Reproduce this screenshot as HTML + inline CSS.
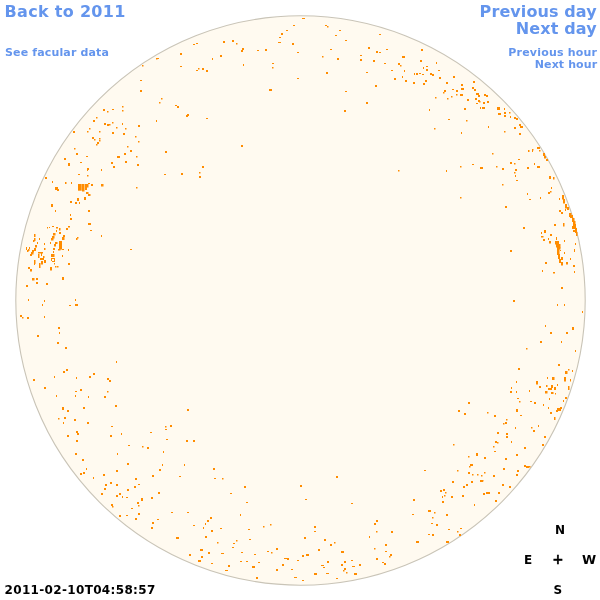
<!DOCTYPE html>
<html><head><meta charset="utf-8"><title>Facular map 2011-02-10</title>
<style>
html,body{margin:0;padding:0;background:#fff;}
body{width:600px;height:600px;position:relative;overflow:hidden;font-family:"DejaVu Sans","Liberation Sans",sans-serif;font-weight:bold;}
svg{position:absolute;left:0;top:0;}
.t{position:absolute;white-space:nowrap;line-height:1;}
.b{color:#6495ed;}
.k{color:#000;}
.big{font-size:16px;letter-spacing:0.1px;}
.sm{font-size:11px;letter-spacing:0.1px;}
.r{text-align:right;}
</style></head><body>
<svg width="600" height="600" viewBox="0 0 600 600">
<circle cx="300.5" cy="300.5" r="284.7" fill="#fffaf0" stroke="#c9c4b7" stroke-width="1.1"/>
<g fill="#ff8c00">
<rect x="78" y="184" width="3.7" height="6.7"/>
<rect x="82" y="184" width="2.5" height="7.5"/>
<rect x="85" y="184" width="2" height="6"/>
<rect x="86" y="184" width="2.5" height="3.5"/>
<rect x="88" y="183" width="2" height="1"/>
<rect x="91" y="184" width="2" height="2"/>
<rect x="86" y="192" width="2.5" height="2"/>
<rect x="88" y="194" width="2.5" height="2"/>
<rect x="84" y="197" width="2" height="3"/>
<rect x="78" y="174" width="2" height="1"/>
<rect x="87" y="175" width="1.5" height="1.5"/>
<rect x="87" y="169" width="1" height="2"/>
<rect x="101" y="169" width="1" height="2"/>
<rect x="65" y="182" width="1.5" height="2"/>
<rect x="71" y="182" width="1" height="2"/>
<rect x="101" y="184" width="2.5" height="2.5"/>
<rect x="77" y="198" width="2" height="3"/>
<rect x="70" y="201" width="2" height="2"/>
<rect x="75" y="202" width="2" height="2"/>
<rect x="79" y="202" width="1" height="2"/>
<rect x="570" y="215" width="3" height="3"/>
<rect x="572" y="218" width="2.5" height="4"/>
<rect x="573" y="221" width="2.5" height="5"/>
<rect x="572" y="226" width="2" height="3"/>
<rect x="574" y="224" width="2" height="5"/>
<rect x="573" y="230" width="2" height="2"/>
<rect x="575" y="228" width="2" height="5"/>
<rect x="576" y="232" width="1.5" height="4"/>
<rect x="554" y="224" width="2" height="2"/>
<rect x="563" y="223" width="1.5" height="3.5"/>
<rect x="544" y="230" width="2" height="3"/>
<rect x="541" y="232" width="1" height="2"/>
<rect x="550" y="234" width="2" height="2"/>
<rect x="541" y="236" width="2.5" height="1.5"/>
<rect x="543" y="239" width="2" height="2"/>
<rect x="548" y="238" width="1" height="2"/>
<rect x="549" y="241" width="2" height="2.5"/>
<rect x="564" y="240" width="1" height="2"/>
<rect x="575" y="243" width="1" height="2"/>
<rect x="556" y="237" width="1" height="3"/>
<rect x="555" y="241" width="4" height="3.5"/>
<rect x="556" y="244" width="4.5" height="3.5"/>
<rect x="557" y="247" width="3.5" height="2.5"/>
<rect x="557" y="249" width="2.5" height="6"/>
<rect x="558" y="254" width="2" height="5"/>
<rect x="559" y="259" width="2" height="4"/>
<rect x="561" y="262" width="2" height="3.5"/>
<rect x="561" y="257" width="2" height="3"/>
<rect x="560" y="250" width="1" height="1"/>
<rect x="564" y="252" width="1" height="2"/>
<rect x="574" y="249" width="1" height="3"/>
<rect x="570" y="258" width="1" height="2"/>
<rect x="545" y="262" width="2" height="2"/>
<rect x="566" y="262" width="2" height="2.5"/>
<rect x="573" y="265" width="2" height="2"/>
<rect x="542" y="270" width="1" height="2"/>
<rect x="553" y="272" width="2" height="1.5"/>
<rect x="574" y="271" width="1" height="2"/>
<rect x="47" y="227" width="1" height="1.5"/>
<rect x="49" y="227" width="1" height="1"/>
<rect x="52" y="226" width="2" height="1"/>
<rect x="56" y="227" width="2" height="1.5"/>
<rect x="56" y="230" width="1" height="2"/>
<rect x="59" y="228" width="1.5" height="2.5"/>
<rect x="59" y="232" width="2" height="2"/>
<rect x="66" y="228" width="2" height="2"/>
<rect x="68" y="226" width="2" height="1.5"/>
<rect x="76" y="238" width="1.5" height="2"/>
<rect x="77" y="237" width="1.5" height="1.5"/>
<rect x="34" y="234" width="1.5" height="3"/>
<rect x="34" y="238" width="1.5" height="3"/>
<rect x="33" y="240" width="1.5" height="2"/>
<rect x="39" y="238" width="1" height="2"/>
<rect x="37" y="242" width="1" height="2"/>
<rect x="44" y="243" width="1" height="2"/>
<rect x="44" y="248" width="1.5" height="2"/>
<rect x="26" y="247" width="1" height="3"/>
<rect x="29" y="247" width="1" height="2"/>
<rect x="28" y="249" width="1.5" height="2"/>
<rect x="27" y="250" width="1.5" height="2"/>
<rect x="35" y="245" width="2" height="2.5"/>
<rect x="34" y="248" width="2" height="3"/>
<rect x="32" y="250" width="2" height="2.5"/>
<rect x="31" y="252" width="2.5" height="2.5"/>
<rect x="30" y="254" width="2" height="2"/>
<rect x="38" y="252" width="5" height="1.5"/>
<rect x="38" y="254" width="1.5" height="4"/>
<rect x="41" y="253" width="1" height="3"/>
<rect x="40" y="258" width="4" height="2"/>
<rect x="43" y="256" width="1.5" height="2"/>
<rect x="41" y="261" width="2" height="3.5"/>
<rect x="44" y="260" width="2" height="3"/>
<rect x="34" y="260" width="1.5" height="4"/>
<rect x="34" y="263" width="1" height="2"/>
<rect x="39" y="263" width="1.5" height="5"/>
<rect x="28" y="267" width="2" height="2"/>
<rect x="30" y="269" width="2" height="2.5"/>
<rect x="53" y="233" width="2.5" height="2.5"/>
<rect x="52" y="236" width="2.5" height="2.5"/>
<rect x="51" y="238" width="2.5" height="2.5"/>
<rect x="50" y="242" width="1" height="2"/>
<rect x="55" y="242" width="2.5" height="2"/>
<rect x="54" y="244" width="2" height="2.5"/>
<rect x="53" y="248" width="2" height="2"/>
<rect x="63" y="235" width="2" height="2"/>
<rect x="62" y="237" width="2.5" height="3"/>
<rect x="59" y="241" width="3" height="8.5"/>
<rect x="58" y="249" width="2.5" height="1.5"/>
<rect x="62" y="249" width="2" height="1"/>
<rect x="68" y="249" width="1" height="2"/>
<rect x="53" y="251" width="1" height="2"/>
<rect x="51" y="254" width="3.5" height="3"/>
<rect x="52" y="258" width="3" height="1"/>
<rect x="52" y="261" width="3" height="1"/>
<rect x="51" y="258" width="1" height="3"/>
<rect x="54" y="258" width="1" height="3"/>
<rect x="62" y="255" width="1" height="2"/>
<rect x="54" y="263" width="1" height="1.5"/>
<rect x="55" y="266" width="1.5" height="1.5"/>
<rect x="57" y="266" width="1.5" height="1.5"/>
<rect x="50" y="267" width="2" height="3.5"/>
<rect x="68" y="263" width="2" height="2"/>
<rect x="32" y="278" width="2.5" height="2.5"/>
<rect x="36" y="278" width="2" height="2"/>
<rect x="62" y="277" width="2" height="3"/>
<rect x="575" y="350" width="1" height="2"/>
<rect x="558" y="364" width="2" height="2"/>
<rect x="518" y="368" width="2" height="2"/>
<rect x="565" y="371" width="2.5" height="3"/>
<rect x="568" y="369" width="1.5" height="1.5"/>
<rect x="572" y="370" width="1" height="2"/>
<rect x="547" y="377" width="1" height="2"/>
<rect x="552" y="377" width="2.5" height="3"/>
<rect x="564" y="377" width="2" height="4.5"/>
<rect x="570" y="379" width="1" height="2.5"/>
<rect x="516" y="381" width="1" height="2"/>
<rect x="536" y="381" width="2" height="3.5"/>
<rect x="557" y="384" width="1" height="2"/>
<rect x="539" y="386" width="2" height="2"/>
<rect x="546" y="385" width="1.5" height="2"/>
<rect x="548" y="388" width="3" height="2"/>
<rect x="551" y="385" width="2" height="3"/>
<rect x="554" y="387" width="2" height="3"/>
<rect x="550" y="388" width="2" height="2"/>
<rect x="545" y="391" width="2.5" height="2.5"/>
<rect x="551" y="392" width="2.5" height="2"/>
<rect x="555" y="393" width="1" height="1.5"/>
<rect x="568" y="386" width="1.5" height="4"/>
<rect x="511" y="387" width="1" height="2"/>
<rect x="510" y="391" width="2" height="2"/>
<rect x="516" y="391" width="1" height="2"/>
<rect x="529" y="390" width="1" height="2"/>
<rect x="517" y="398" width="2" height="1"/>
<rect x="519" y="401" width="1.5" height="1.5"/>
<rect x="530" y="401" width="2" height="1"/>
<rect x="534" y="402" width="2" height="2"/>
<rect x="549" y="398" width="1" height="2"/>
<rect x="543" y="404" width="1" height="2"/>
<rect x="548" y="407" width="1" height="2"/>
<rect x="565" y="397" width="2" height="2"/>
<rect x="563" y="400" width="1" height="2"/>
<rect x="557" y="408" width="4" height="3"/>
<rect x="556" y="410" width="2" height="2"/>
<rect x="560" y="407" width="2" height="2"/>
<rect x="516" y="409" width="2" height="3"/>
<rect x="550" y="412" width="2" height="2"/>
<rect x="520" y="415" width="2" height="1"/>
<rect x="554" y="417" width="1.5" height="3"/>
<rect x="506" y="419" width="1.5" height="1.5"/>
<rect x="505" y="422" width="2" height="2"/>
<rect x="503" y="423" width="1.5" height="1.5"/>
<rect x="538" y="425" width="1" height="2"/>
<rect x="531" y="427" width="1.5" height="1.5"/>
<rect x="515" y="427" width="1" height="2"/>
<rect x="533" y="430" width="2" height="2"/>
<rect x="506" y="433" width="2" height="2"/>
<rect x="506" y="436" width="2" height="2"/>
<rect x="544" y="436" width="2" height="2"/>
<rect x="510" y="250" width="2" height="2"/>
<rect x="561" y="287" width="2" height="2"/>
<rect x="513" y="300" width="2" height="2"/>
<rect x="557" y="304" width="1" height="2"/>
<rect x="564" y="304" width="1" height="2"/>
<rect x="582" y="311" width="1" height="2"/>
<rect x="545" y="325" width="1" height="2"/>
<rect x="572" y="327" width="2" height="3"/>
<rect x="453" y="76" width="2" height="2"/>
<rect x="473" y="81" width="2" height="2"/>
<rect x="461" y="84" width="2" height="2"/>
<rect x="461" y="88" width="3" height="2"/>
<rect x="452" y="89" width="2" height="1"/>
<rect x="456" y="90" width="2" height="2"/>
<rect x="456" y="94" width="1.5" height="1.5"/>
<rect x="451" y="96" width="1.5" height="1.5"/>
<rect x="460" y="94" width="3" height="2"/>
<rect x="472" y="87" width="2" height="2"/>
<rect x="474" y="89" width="2" height="2"/>
<rect x="476" y="93" width="3" height="2"/>
<rect x="478" y="95" width="2" height="2"/>
<rect x="484" y="94" width="2" height="2"/>
<rect x="486" y="95" width="2" height="2"/>
<rect x="467" y="99" width="2" height="2"/>
<rect x="475" y="98" width="2" height="2"/>
<rect x="478" y="100" width="2" height="2"/>
<rect x="479" y="101" width="1.5" height="1.5"/>
<rect x="476" y="103" width="2" height="1"/>
<rect x="483" y="102" width="2" height="2"/>
<rect x="487" y="101" width="2" height="2"/>
<rect x="480" y="107" width="1" height="2"/>
<rect x="482" y="107" width="3" height="2"/>
<rect x="464" y="108" width="2" height="2"/>
<rect x="497" y="107" width="3" height="3"/>
<rect x="504" y="108" width="1" height="2"/>
<rect x="498" y="113" width="3" height="2"/>
<rect x="504" y="112" width="2" height="2"/>
<rect x="504" y="115" width="2" height="2"/>
<rect x="509" y="112" width="1.5" height="1.5"/>
<rect x="510" y="116" width="1" height="2"/>
<rect x="514" y="117" width="2" height="2"/>
<rect x="516" y="118" width="2" height="2"/>
<rect x="466" y="120" width="1.5" height="1.5"/>
<rect x="488" y="126" width="1" height="2"/>
<rect x="519" y="124" width="2" height="2"/>
<rect x="520" y="126" width="3" height="2"/>
<rect x="514" y="127" width="2" height="2"/>
<rect x="504" y="131" width="1.5" height="1.5"/>
<rect x="519" y="133" width="2" height="2"/>
<rect x="461" y="132" width="1" height="2"/>
<rect x="532" y="149" width="1.5" height="1.5"/>
<rect x="537" y="147" width="3" height="2"/>
<rect x="26" y="285" width="2" height="2"/>
<rect x="46" y="283" width="2" height="2"/>
<rect x="36" y="282" width="2" height="2"/>
<rect x="28" y="299" width="1" height="2"/>
<rect x="44" y="300" width="1" height="2"/>
<rect x="42" y="304" width="1" height="2"/>
<rect x="75" y="299" width="1" height="2"/>
<rect x="69" y="305" width="2" height="1"/>
<rect x="75" y="304" width="3" height="2"/>
<rect x="20" y="315" width="2" height="2"/>
<rect x="22" y="317" width="1.5" height="1.5"/>
<rect x="27" y="317" width="2" height="2"/>
<rect x="44" y="316" width="1" height="2"/>
<rect x="58" y="327" width="2" height="2"/>
<rect x="528" y="150" width="1.5" height="2"/>
<rect x="532" y="150" width="1" height="2"/>
<rect x="539" y="150" width="1.5" height="1.5"/>
<rect x="543" y="153" width="2" height="3"/>
<rect x="544" y="156" width="2" height="2.5"/>
<rect x="546" y="159" width="2" height="2"/>
<rect x="518" y="159" width="2" height="1"/>
<rect x="510" y="162" width="2" height="2"/>
<rect x="514" y="163" width="1.5" height="1.5"/>
<rect x="534" y="163" width="1" height="2"/>
<rect x="527" y="167" width="2" height="2"/>
<rect x="537" y="166" width="3" height="2"/>
<rect x="515" y="169" width="2" height="2"/>
<rect x="514" y="172" width="1.5" height="1.5"/>
<rect x="515" y="175" width="1" height="2"/>
<rect x="516" y="180" width="2" height="1"/>
<rect x="549" y="176" width="2" height="3"/>
<rect x="553" y="177" width="1.5" height="2.5"/>
<rect x="551" y="187" width="1" height="2"/>
<rect x="550" y="191" width="1.5" height="1.5"/>
<rect x="548" y="192" width="2" height="2"/>
<rect x="527" y="193" width="1" height="2"/>
<rect x="529" y="199" width="2" height="1"/>
<rect x="540" y="197" width="1" height="2"/>
<rect x="559" y="198" width="1" height="2"/>
<rect x="562" y="195" width="2" height="4.5"/>
<rect x="563" y="199" width="2" height="4.5"/>
<rect x="565" y="204" width="2" height="4.5"/>
<rect x="567" y="207" width="2" height="3"/>
<rect x="565" y="209" width="1" height="2"/>
<rect x="559" y="210" width="2" height="2"/>
<rect x="561" y="212" width="2" height="2"/>
<rect x="569" y="213" width="2.5" height="4"/>
<rect x="523" y="227" width="2" height="2"/>
<rect x="76" y="153" width="2" height="2"/>
<rect x="86" y="156" width="2" height="1"/>
<rect x="117" y="156" width="3" height="2"/>
<rect x="64" y="158" width="2" height="2"/>
<rect x="80" y="162" width="2" height="1"/>
<rect x="111" y="162" width="2" height="2"/>
<rect x="68" y="163" width="2" height="3"/>
<rect x="113" y="166" width="2" height="2"/>
<rect x="87" y="168" width="2" height="2"/>
<rect x="45" y="177" width="2" height="2"/>
<rect x="52" y="181" width="1" height="2"/>
<rect x="55" y="187" width="3" height="3"/>
<rect x="57" y="189" width="2" height="2"/>
<rect x="51" y="204" width="2" height="3"/>
<rect x="55" y="210" width="1" height="2"/>
<rect x="88" y="210" width="2" height="2"/>
<rect x="70" y="214" width="1" height="2"/>
<rect x="70" y="218" width="2" height="2"/>
<rect x="88" y="223" width="3" height="2"/>
<rect x="90" y="230" width="2" height="1"/>
<rect x="101" y="235" width="1" height="2"/>
<rect x="550" y="332" width="2" height="2"/>
<rect x="566" y="332" width="2" height="2"/>
<rect x="561" y="341" width="1" height="2"/>
<rect x="540" y="341" width="2" height="2"/>
<rect x="526" y="348" width="1.5" height="1.5"/>
<rect x="468" y="402" width="2" height="2"/>
<rect x="458" y="410" width="2" height="2"/>
<rect x="464" y="413" width="2" height="2"/>
<rect x="487" y="412" width="1.5" height="1.5"/>
<rect x="494" y="415" width="2" height="2"/>
<rect x="453" y="444" width="1.5" height="1.5"/>
<rect x="495" y="441" width="2" height="2"/>
<rect x="497" y="442" width="1.5" height="1.5"/>
<rect x="497" y="432" width="2" height="2"/>
<rect x="511" y="441" width="1" height="2"/>
<rect x="524" y="447" width="2" height="2"/>
<rect x="542" y="444" width="2" height="2"/>
<rect x="493" y="446" width="1.5" height="1.5"/>
<rect x="130" y="150" width="2" height="2"/>
<rect x="124" y="153" width="2" height="2"/>
<rect x="117" y="156" width="3" height="2"/>
<rect x="136" y="156" width="1.5" height="1.5"/>
<rect x="125" y="161" width="2" height="2"/>
<rect x="137" y="164" width="2" height="2"/>
<rect x="136" y="187" width="1.5" height="1.5"/>
<rect x="130" y="249" width="2" height="1"/>
<rect x="75" y="453" width="2" height="2"/>
<rect x="117" y="453" width="1" height="2"/>
<rect x="82" y="459" width="2" height="2"/>
<rect x="127" y="463" width="2" height="2"/>
<rect x="86" y="468" width="1" height="2"/>
<rect x="83" y="472" width="2" height="2"/>
<rect x="80" y="473" width="2" height="2"/>
<rect x="116" y="470" width="2" height="2"/>
<rect x="103" y="474" width="2" height="2"/>
<rect x="93" y="477" width="1" height="2"/>
<rect x="135" y="478" width="2" height="2"/>
<rect x="110" y="482" width="2" height="2"/>
<rect x="105" y="484" width="2" height="2"/>
<rect x="116" y="484" width="2" height="2"/>
<rect x="138" y="484" width="2" height="1"/>
<rect x="134" y="486" width="2" height="2"/>
<rect x="104" y="488" width="2" height="2"/>
<rect x="127" y="489" width="2" height="2"/>
<rect x="101" y="493" width="2" height="2"/>
<rect x="119" y="493" width="2" height="2"/>
<rect x="116" y="495" width="2" height="2"/>
<rect x="122" y="496" width="1" height="2"/>
<rect x="126" y="497" width="2" height="1"/>
<rect x="141" y="498" width="2" height="3"/>
<rect x="137" y="502" width="2" height="2"/>
<rect x="138" y="505" width="1.5" height="1.5"/>
<rect x="111" y="504" width="2" height="2"/>
<rect x="112" y="506" width="1.5" height="1.5"/>
<rect x="131" y="508" width="2" height="1"/>
<rect x="138" y="513" width="2" height="2"/>
<rect x="119" y="515" width="2" height="2"/>
<rect x="126" y="515" width="2" height="1"/>
<rect x="135" y="518" width="2" height="2"/>
<rect x="494" y="451" width="2" height="1"/>
<rect x="476" y="453" width="2" height="3"/>
<rect x="516" y="454" width="2" height="2"/>
<rect x="468" y="456" width="1.5" height="1.5"/>
<rect x="484" y="457" width="2" height="2"/>
<rect x="505" y="458" width="2" height="2"/>
<rect x="470" y="464" width="3" height="2"/>
<rect x="469" y="466" width="1.5" height="1.5"/>
<rect x="457" y="470" width="1.5" height="1.5"/>
<rect x="524" y="465" width="2" height="2"/>
<rect x="526" y="466" width="3" height="2"/>
<rect x="529" y="466" width="1.5" height="1.5"/>
<rect x="503" y="468" width="2" height="2"/>
<rect x="517" y="470" width="2" height="2"/>
<rect x="468" y="472" width="2" height="2"/>
<rect x="484" y="472" width="1.5" height="1.5"/>
<rect x="472" y="474" width="1.5" height="1.5"/>
<rect x="477" y="474" width="1.5" height="1.5"/>
<rect x="481" y="475" width="1.5" height="1.5"/>
<rect x="493" y="475" width="2" height="2"/>
<rect x="516" y="474" width="2" height="2"/>
<rect x="452" y="481" width="2" height="2"/>
<rect x="471" y="481" width="2" height="2"/>
<rect x="480" y="480" width="3" height="2"/>
<rect x="482" y="480" width="1.5" height="1.5"/>
<rect x="466" y="484" width="2" height="2"/>
<rect x="463" y="486" width="2" height="2"/>
<rect x="502" y="484" width="2" height="2"/>
<rect x="509" y="486" width="2" height="2"/>
<rect x="451" y="496" width="2" height="2"/>
<rect x="462" y="495" width="2" height="2"/>
<rect x="483" y="493" width="2" height="2"/>
<rect x="486" y="492" width="2" height="2"/>
<rect x="488" y="492" width="2" height="2"/>
<rect x="498" y="492" width="2" height="2"/>
<rect x="495" y="500" width="2" height="2"/>
<rect x="474" y="504" width="1" height="2"/>
<rect x="460" y="528" width="2" height="1"/>
<rect x="457" y="531" width="1.5" height="1.5"/>
<rect x="459" y="534" width="2" height="2"/>
<rect x="293" y="25" width="2" height="1"/>
<rect x="286" y="30" width="2" height="1"/>
<rect x="281" y="33" width="2" height="2"/>
<rect x="279" y="37" width="2" height="1"/>
<rect x="278" y="42" width="3" height="1"/>
<rect x="292" y="43" width="2" height="2"/>
<rect x="297" y="52" width="2" height="1"/>
<rect x="297" y="78" width="2" height="1"/>
<rect x="223" y="41" width="2" height="2"/>
<rect x="232" y="40" width="2" height="2"/>
<rect x="236" y="43" width="1.5" height="1.5"/>
<rect x="242" y="48" width="2" height="2"/>
<rect x="241" y="50" width="2" height="2"/>
<rect x="257" y="50" width="2" height="1"/>
<rect x="265" y="49" width="2" height="2"/>
<rect x="193" y="44" width="2" height="1"/>
<rect x="196" y="43" width="2" height="1"/>
<rect x="180" y="53" width="2" height="2"/>
<rect x="157" y="58" width="2" height="1"/>
<rect x="156" y="58" width="1.5" height="1.5"/>
<rect x="212" y="58" width="1" height="2"/>
<rect x="220" y="55" width="2" height="2"/>
<rect x="180" y="66" width="2" height="1"/>
<rect x="243" y="64" width="1" height="2"/>
<rect x="272" y="63" width="2" height="1"/>
<rect x="272" y="67" width="1.5" height="1.5"/>
<rect x="196" y="70" width="2" height="1"/>
<rect x="198" y="68" width="1.5" height="1.5"/>
<rect x="202" y="68" width="2" height="2"/>
<rect x="206" y="70" width="2" height="2"/>
<rect x="269" y="89" width="3" height="2"/>
<rect x="161" y="98" width="1.5" height="1.5"/>
<rect x="159" y="102" width="1.5" height="1.5"/>
<rect x="175" y="105" width="2" height="1"/>
<rect x="177" y="106" width="2" height="2"/>
<rect x="187" y="114" width="2" height="2"/>
<rect x="186" y="115" width="2" height="2"/>
<rect x="206" y="118" width="2" height="1"/>
<rect x="156" y="120" width="1" height="2"/>
<rect x="241" y="145" width="2" height="2"/>
<rect x="59" y="332" width="1" height="2"/>
<rect x="37" y="335" width="2" height="2"/>
<rect x="57" y="342" width="2" height="2"/>
<rect x="65" y="347" width="2" height="2"/>
<rect x="116" y="361" width="1" height="2"/>
<rect x="66" y="369" width="2" height="2"/>
<rect x="63" y="371" width="2" height="2"/>
<rect x="54" y="376" width="1" height="2"/>
<rect x="76" y="377" width="1" height="2"/>
<rect x="89" y="376" width="2" height="2"/>
<rect x="93" y="373" width="2" height="2"/>
<rect x="107" y="378" width="2" height="2"/>
<rect x="109" y="380" width="2" height="2"/>
<rect x="33" y="379" width="2" height="2"/>
<rect x="44" y="387" width="2" height="2"/>
<rect x="80" y="389" width="2" height="2"/>
<rect x="75" y="391" width="2" height="1"/>
<rect x="75" y="395" width="1" height="2"/>
<rect x="56" y="395" width="1" height="2"/>
<rect x="88" y="396" width="1" height="2"/>
<rect x="107" y="391" width="1.5" height="1.5"/>
<rect x="104" y="396" width="2" height="2"/>
<rect x="115" y="405" width="2" height="2"/>
<rect x="62" y="407" width="2" height="3"/>
<rect x="67" y="410" width="2" height="2"/>
<rect x="83" y="407" width="2" height="2"/>
<rect x="58" y="418" width="1.5" height="1.5"/>
<rect x="64" y="417" width="2" height="2"/>
<rect x="63" y="422" width="1" height="2"/>
<rect x="74" y="419" width="2" height="2"/>
<rect x="87" y="422" width="2" height="2"/>
<rect x="111" y="426" width="2" height="1"/>
<rect x="76" y="431" width="2" height="2"/>
<rect x="77" y="433" width="2" height="2"/>
<rect x="67" y="435" width="2" height="2"/>
<rect x="110" y="435" width="2" height="2"/>
<rect x="121" y="433" width="1" height="2"/>
<rect x="76" y="440" width="2" height="2"/>
<rect x="128" y="445" width="2" height="1"/>
<rect x="142" y="446" width="1.5" height="1.5"/>
<rect x="147" y="447" width="2" height="2"/>
<rect x="424" y="470" width="2" height="1"/>
<rect x="336" y="476" width="2" height="2"/>
<rect x="300" y="485" width="2" height="2"/>
<rect x="440" y="490" width="2" height="2"/>
<rect x="443" y="489" width="2" height="2"/>
<rect x="445" y="492" width="1.5" height="1.5"/>
<rect x="442" y="496" width="1" height="2"/>
<rect x="444" y="495" width="1.5" height="1.5"/>
<rect x="305" y="499" width="2" height="1"/>
<rect x="413" y="499" width="2" height="2"/>
<rect x="442" y="501" width="2" height="2"/>
<rect x="351" y="503" width="2" height="1"/>
<rect x="428" y="510" width="3" height="2"/>
<rect x="434" y="512" width="1.5" height="1.5"/>
<rect x="412" y="514" width="2" height="1"/>
<rect x="446" y="514" width="2" height="2"/>
<rect x="432" y="517" width="1.5" height="1.5"/>
<rect x="376" y="520" width="2" height="2"/>
<rect x="374" y="523" width="2" height="2"/>
<rect x="431" y="523" width="2" height="1"/>
<rect x="436" y="524" width="2" height="2"/>
<rect x="314" y="526" width="2" height="2"/>
<rect x="314" y="531" width="2" height="1"/>
<rect x="376" y="531" width="1.5" height="1.5"/>
<rect x="391" y="531" width="2" height="2"/>
<rect x="448" y="529" width="2" height="1"/>
<rect x="428" y="534" width="2" height="1"/>
<rect x="432" y="534" width="2" height="2"/>
<rect x="369" y="536" width="1" height="2"/>
<rect x="304" y="537" width="2" height="2"/>
<rect x="324" y="539" width="2" height="2"/>
<rect x="416" y="541" width="3" height="2"/>
<rect x="446" y="541" width="3" height="2"/>
<rect x="330" y="544" width="2" height="2"/>
<rect x="334" y="542" width="1.5" height="1.5"/>
<rect x="385" y="544" width="2" height="2"/>
<rect x="318" y="549" width="2" height="2"/>
<rect x="374" y="548" width="1.5" height="1.5"/>
<rect x="385" y="551" width="2" height="1"/>
<rect x="341" y="551" width="3" height="2"/>
<rect x="302" y="555" width="2" height="2"/>
<rect x="306" y="554" width="3" height="2"/>
<rect x="390" y="554" width="2" height="2"/>
<rect x="389" y="556" width="1.5" height="1.5"/>
<rect x="351" y="560" width="2" height="1"/>
<rect x="376" y="558" width="2" height="2"/>
<rect x="327" y="561" width="2" height="2"/>
<rect x="344" y="561" width="2" height="2"/>
<rect x="382" y="562" width="2" height="1"/>
<rect x="384" y="563" width="2" height="2"/>
<rect x="321" y="565" width="3" height="1"/>
<rect x="323" y="567" width="2" height="1"/>
<rect x="341" y="564" width="2" height="2"/>
<rect x="359" y="564" width="2" height="2"/>
<rect x="352" y="566" width="3" height="1"/>
<rect x="344" y="568" width="2" height="2"/>
<rect x="343" y="570" width="1.5" height="1.5"/>
<rect x="346" y="572" width="1.5" height="1.5"/>
<rect x="314" y="573" width="3" height="2"/>
<rect x="326" y="573" width="3" height="1"/>
<rect x="354" y="573" width="3" height="2"/>
<rect x="336" y="578" width="2" height="1"/>
<rect x="302" y="580" width="2" height="1"/>
<rect x="492" y="153" width="1.5" height="1.5"/>
<rect x="460" y="166" width="1.5" height="1.5"/>
<rect x="472" y="164" width="2" height="1"/>
<rect x="480" y="167" width="3" height="2"/>
<rect x="496" y="166" width="1.5" height="1.5"/>
<rect x="502" y="168" width="2" height="2"/>
<rect x="502" y="184" width="1.5" height="1.5"/>
<rect x="460" y="197" width="1.5" height="1.5"/>
<rect x="505" y="206" width="2" height="2"/>
<rect x="165" y="151" width="2" height="2"/>
<rect x="202" y="166" width="2" height="2"/>
<rect x="164" y="174" width="2" height="1"/>
<rect x="181" y="173" width="2" height="2"/>
<rect x="199" y="172" width="1.5" height="1.5"/>
<rect x="199" y="176" width="2" height="2"/>
<rect x="187" y="409" width="2" height="2"/>
<rect x="170" y="425" width="2" height="2"/>
<rect x="165" y="426" width="1.5" height="1.5"/>
<rect x="165" y="429" width="2" height="1"/>
<rect x="150" y="432" width="2" height="1"/>
<rect x="166" y="439" width="2" height="1"/>
<rect x="186" y="440" width="2" height="2"/>
<rect x="193" y="440" width="2" height="2"/>
<rect x="302" y="18" width="3" height="1"/>
<rect x="325" y="25" width="2" height="1"/>
<rect x="327" y="26" width="1.5" height="1.5"/>
<rect x="339" y="30" width="2" height="1"/>
<rect x="335" y="35" width="2" height="1"/>
<rect x="345" y="40" width="2" height="1"/>
<rect x="379" y="34" width="2" height="1"/>
<rect x="330" y="49" width="2" height="1"/>
<rect x="322" y="56" width="1.5" height="1.5"/>
<rect x="337" y="58" width="2" height="2"/>
<rect x="368" y="47" width="2" height="2"/>
<rect x="376" y="51" width="2" height="2"/>
<rect x="379" y="52" width="2" height="1"/>
<rect x="386" y="49" width="2" height="1"/>
<rect x="360" y="55" width="2" height="1"/>
<rect x="360" y="59" width="2" height="2"/>
<rect x="373" y="60" width="2" height="2"/>
<rect x="384" y="63" width="2" height="1"/>
<rect x="421" y="49" width="2" height="2"/>
<rect x="402" y="56" width="3" height="2"/>
<rect x="420" y="60" width="2" height="2"/>
<rect x="436" y="62" width="1" height="2"/>
<rect x="398" y="63" width="2" height="2"/>
<rect x="400" y="65" width="1.5" height="1.5"/>
<rect x="426" y="66" width="2" height="1"/>
<rect x="423" y="67" width="1" height="2"/>
<rect x="426" y="69" width="2" height="2"/>
<rect x="391" y="70" width="2" height="1"/>
<rect x="404" y="70" width="1" height="2"/>
<rect x="438" y="70" width="2" height="1"/>
<rect x="326" y="72" width="2" height="2"/>
<rect x="366" y="72" width="2" height="1"/>
<rect x="414" y="73" width="1" height="2"/>
<rect x="416" y="73" width="2" height="2"/>
<rect x="419" y="73" width="2" height="1"/>
<rect x="422" y="74" width="2" height="1"/>
<rect x="430" y="73" width="2" height="2"/>
<rect x="432" y="74" width="2" height="2"/>
<rect x="402" y="76" width="1" height="2"/>
<rect x="394" y="78" width="2" height="2"/>
<rect x="439" y="77" width="2" height="2"/>
<rect x="405" y="80" width="2" height="2"/>
<rect x="425" y="80" width="2" height="2"/>
<rect x="413" y="82" width="2" height="2"/>
<rect x="446" y="82" width="2" height="2"/>
<rect x="423" y="83" width="2" height="2"/>
<rect x="375" y="85" width="2" height="2"/>
<rect x="345" y="91" width="2" height="1"/>
<rect x="444" y="90" width="2" height="2"/>
<rect x="443" y="92" width="1.5" height="1.5"/>
<rect x="435" y="97" width="1.5" height="1.5"/>
<rect x="447" y="98" width="1.5" height="1.5"/>
<rect x="366" y="102" width="2" height="2"/>
<rect x="344" y="110" width="2" height="2"/>
<rect x="429" y="109" width="1" height="2"/>
<rect x="448" y="119" width="2" height="1"/>
<rect x="434" y="128" width="1.5" height="1.5"/>
<rect x="163" y="451" width="1" height="2"/>
<rect x="162" y="464" width="1" height="2"/>
<rect x="184" y="464" width="1" height="2"/>
<rect x="159" y="469" width="2" height="2"/>
<rect x="213" y="468" width="2" height="2"/>
<rect x="152" y="475" width="2" height="2"/>
<rect x="179" y="476" width="2" height="1"/>
<rect x="214" y="478" width="2" height="1"/>
<rect x="222" y="478" width="1.5" height="1.5"/>
<rect x="244" y="486" width="2" height="2"/>
<rect x="158" y="492" width="2" height="2"/>
<rect x="230" y="493" width="2" height="1"/>
<rect x="151" y="497" width="2" height="2"/>
<rect x="246" y="502" width="2" height="1"/>
<rect x="171" y="512" width="2" height="1"/>
<rect x="187" y="512" width="2" height="1"/>
<rect x="240" y="514" width="1" height="2"/>
<rect x="157" y="519" width="2" height="1"/>
<rect x="210" y="517" width="2" height="2"/>
<rect x="207" y="520" width="2" height="2"/>
<rect x="152" y="522" width="2" height="2"/>
<rect x="151" y="527" width="2" height="2"/>
<rect x="193" y="525" width="2" height="1"/>
<rect x="205" y="523" width="1" height="2"/>
<rect x="203" y="527" width="1" height="2"/>
<rect x="220" y="528" width="2" height="1"/>
<rect x="211" y="530" width="2" height="2"/>
<rect x="248" y="529" width="2" height="1"/>
<rect x="263" y="526" width="1.5" height="1.5"/>
<rect x="270" y="524" width="1.5" height="1.5"/>
<rect x="176" y="537" width="3" height="2"/>
<rect x="205" y="536" width="2" height="2"/>
<rect x="236" y="540" width="1.5" height="1.5"/>
<rect x="217" y="542" width="1.5" height="1.5"/>
<rect x="233" y="543" width="2" height="1"/>
<rect x="232" y="547" width="2" height="1"/>
<rect x="249" y="539" width="2" height="1"/>
<rect x="200" y="549" width="3" height="2"/>
<rect x="208" y="552" width="2" height="2"/>
<rect x="189" y="554" width="2" height="2"/>
<rect x="221" y="553" width="3" height="1"/>
<rect x="241" y="552" width="2" height="1"/>
<rect x="254" y="554" width="2" height="1"/>
<rect x="276" y="548" width="2" height="2"/>
<rect x="267" y="551" width="2" height="1"/>
<rect x="271" y="552" width="1.5" height="1.5"/>
<rect x="201" y="556" width="2" height="2"/>
<rect x="198" y="560" width="3" height="2"/>
<rect x="211" y="563" width="2" height="1"/>
<rect x="240" y="561" width="2" height="1"/>
<rect x="246" y="561" width="2" height="1"/>
<rect x="258" y="562" width="2" height="1"/>
<rect x="284" y="558" width="3" height="1"/>
<rect x="287" y="558" width="2" height="2"/>
<rect x="297" y="560" width="2" height="1"/>
<rect x="228" y="565" width="2" height="2"/>
<rect x="252" y="566" width="3" height="2"/>
<rect x="282" y="564" width="2" height="2"/>
<rect x="225" y="570" width="3" height="1"/>
<rect x="276" y="569" width="2" height="2"/>
<rect x="291" y="569" width="2" height="1"/>
<rect x="256" y="577" width="2" height="2"/>
<rect x="294" y="577" width="3" height="1"/>
<rect x="398" y="170" width="1.5" height="1.5"/>
<rect x="446" y="170" width="1" height="2"/>
<rect x="142" y="65" width="1.5" height="1.5"/>
<rect x="140" y="80" width="2" height="1"/>
<rect x="140" y="90" width="2" height="2"/>
<rect x="103" y="109" width="2" height="2"/>
<rect x="107" y="111" width="1.5" height="1.5"/>
<rect x="112" y="109" width="2" height="1"/>
<rect x="122" y="106" width="1.5" height="1.5"/>
<rect x="122" y="110" width="1.5" height="1.5"/>
<rect x="96" y="117" width="1.5" height="1.5"/>
<rect x="93" y="120" width="2" height="2"/>
<rect x="104" y="123" width="2" height="2"/>
<rect x="107" y="124" width="2" height="2"/>
<rect x="109" y="124" width="1.5" height="1.5"/>
<rect x="112" y="122" width="1.5" height="1.5"/>
<rect x="122" y="123" width="1" height="2"/>
<rect x="138" y="125" width="2" height="2"/>
<rect x="89" y="128" width="1.5" height="1.5"/>
<rect x="87" y="131" width="1.5" height="1.5"/>
<rect x="99" y="131" width="1.5" height="1.5"/>
<rect x="112" y="132" width="2" height="2"/>
<rect x="116" y="127" width="1.5" height="1.5"/>
<rect x="123" y="133" width="2" height="2"/>
<rect x="125" y="128" width="1.5" height="1.5"/>
<rect x="73" y="131" width="2" height="2"/>
<rect x="135" y="136" width="1.5" height="1.5"/>
<rect x="92" y="137" width="2" height="2"/>
<rect x="94" y="139" width="1.5" height="1.5"/>
<rect x="99" y="138" width="1.5" height="1.5"/>
<rect x="99" y="140" width="1.5" height="1.5"/>
<rect x="97" y="142" width="2" height="2"/>
<rect x="96" y="144" width="1.5" height="1.5"/>
<rect x="138" y="141" width="1.5" height="1.5"/>
<rect x="127" y="146" width="1.5" height="1.5"/>
<rect x="74" y="148" width="1.5" height="1.5"/>
</g>
</svg>
<div class="t b big" style="left:4.6px;top:4px;letter-spacing:0.3px;">Back to 2011</div>
<div class="t b sm" style="left:5px;top:46.8px;letter-spacing:0.15px;">See facular data</div>
<div class="t b big r" style="right:3.2px;top:4px;">Previous day</div>
<div class="t b big r" style="right:3.2px;top:21px;letter-spacing:0.14px;">Next day</div>
<div class="t b sm r" style="right:2.8px;top:47px;letter-spacing:0.2px;">Previous hour</div>
<div class="t b sm r" style="right:2.8px;top:59.2px;letter-spacing:0.1px;">Next hour</div>
<div class="t k" style="left:4.5px;top:584.3px;font-size:12px;letter-spacing:0.34px;">2011-02-10T04:58:57</div>
<div class="t k" style="left:555px;top:524px;font-size:12px;">N</div>
<div class="t k" style="left:524px;top:554px;font-size:12px;">E</div>
<div class="t k" style="left:552.3px;top:552.5px;font-size:13.5px;-webkit-text-stroke:0.35px #000;">+</div>
<div class="t k" style="left:582px;top:554px;letter-spacing:0;transform-origin:0 0;transform:scaleX(1.07);font-size:12px;">W</div>
<div class="t k" style="left:553.6px;top:584px;font-size:12px;">S</div>
</body></html>
